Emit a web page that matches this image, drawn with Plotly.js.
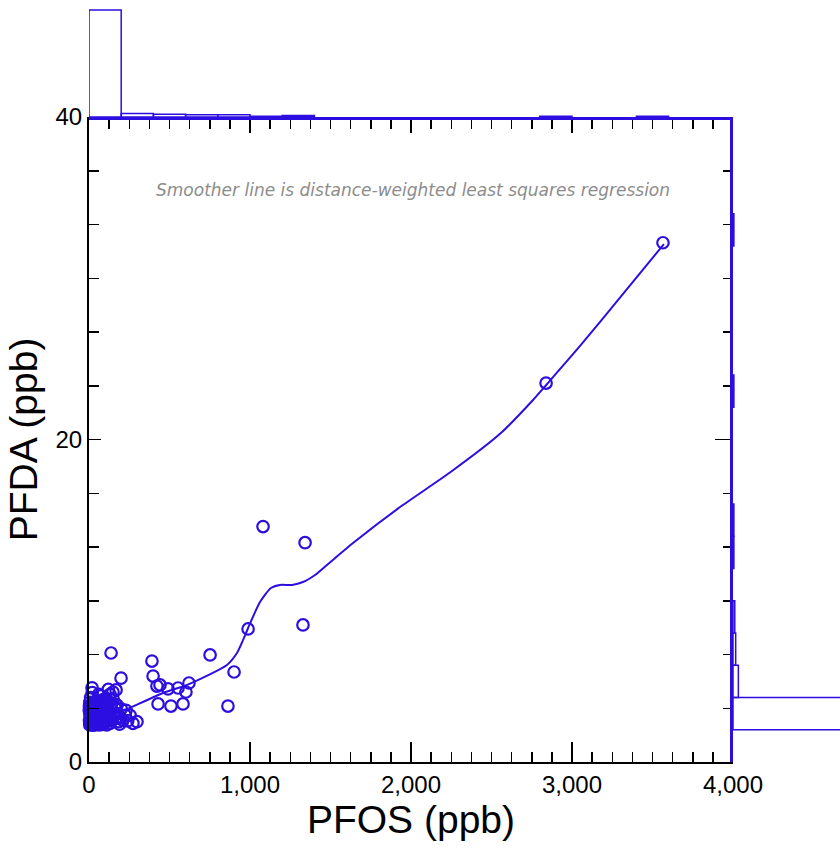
<!DOCTYPE html>
<html><head><meta charset="utf-8">
<script src="https://cdn.plot.ly/plotly-3.0.1.min.js"></script>
<style>html,body{margin:0;padding:0;background:#fff}</style>
</head><body><div id="chart" style="width:840px;height:855px"></div>
<script>
// scatter data: PFOS (x) vs PFDA (y), ppb
const pfos = [3565,2839,1081,1342,988,1329,752,391,137,901,398,199,441,422,621,553,491,602,429,509,584,863,19,149,168,174,255,298,273,
  5,15,25,35,45,55,65,75,10,20,30,40,50,60,70,80,90,100,110,120,8,18,28,38,48,58,68,78,88,98,12,22,32,42,52,62,72,85,95,105,115,125,135,145,155,165,175,185,195,210,225,240,140,150,160,170,5,10,20,60,75,120,130,3,2,200,230,190,110,130,45,35,25,15,65,85,
  4,12,22,30,42,52,62,72,82,92,102,112,6,16,26,36,46,56,66,76,86,96,106,3,14,24,34,44,54,64,74,84,94,104,116,126];
const pfda = [32.2,23.5,14.6,13.6,8.25,8.5,6.64,6.26,6.76,5.58,5.33,5.2,4.78,4.71,4.9,4.59,4.53,4.34,3.6,3.47,3.6,3.47,4.6,4.34,4.47,3.53,2.9,2.5,2.4,
  2.3,2.35,2.28,2.4,2.32,2.45,2.35,2.5,2.5,2.6,2.55,2.7,2.58,2.8,2.62,2.75,2.5,2.65,2.9,2.55,2.9,3.0,2.85,3.1,2.95,3.2,3.05,3.3,3.15,3.4,3.3,3.5,3.4,3.6,3.5,3.75,3.6,3.85,3.7,3.95,3.3,3.1,2.8,2.6,2.9,2.7,3.0,2.5,2.75,2.6,2.9,2.55,3.6,3.9,3.4,3.55,3.7,4.0,4.3,4.2,4.1,4.5,4.2,2.6,3.2,3.3,3.2,2.35,2.3,2.4,2.45,2.38,2.3,2.42,2.3,2.33,
  2.45,2.52,2.4,2.65,2.7,2.48,2.72,2.4,2.62,2.78,2.45,2.68,2.95,3.05,3.15,2.9,3.25,3.0,2.85,3.1,2.95,3.2,3.0,3.45,3.55,3.65,3.3,3.8,3.45,3.35,3.75,3.5,3.6,3.25,3.5,3.7];
// smoother (distance-weighted least squares) line
const smoothX = [19,130,211,460,609,857,919,957,988,1062,1130,1186,1261,1329,1404,1478,1640,1932,2242,2553,2758,2845,3050,3298,3571];
const smoothY = [2.6,2.85,3.16,4.28,4.78,6.02,6.76,7.57,8.31,9.92,10.79,10.98,10.98,11.16,11.6,12.22,13.58,15.81,17.95,20.35,22.45,23.44,25.8,28.8,32.12];
// marginal histograms
const histXCenters = [100,300,500,700,900,1100,1300,2900,3500];
const histXCounts = [150,5,4,3,3,1,2,1,1];
const histYCenters = [3,5,7,9,13,15,23,33];
const histYCounts = [151,6,3,2,1,1,1,1];
const xTickVals = [0,1000,2000,3000,4000];
const yTickVals = [0,20,40];

const BLUE = '#2c0fe0';
const traces = [
  {type:'scatter', mode:'markers', x:pfos, y:pfda, xaxis:'x', yaxis:'y',
   marker:{symbol:'circle-open', size:11.5, color:BLUE, line:{width:2.2, color:BLUE}}, cliponaxis:false, hoverinfo:'skip'},
  {type:'scatter', mode:'lines', x:smoothX, y:smoothY, xaxis:'x', yaxis:'y',
   line:{color:BLUE, width:2, shape:'spline', smoothing:0.6}, hoverinfo:'skip'},
  {type:'bar', x:histXCenters, y:histXCounts, width:200, xaxis:'x2', yaxis:'y2',
   marker:{color:'rgba(255,255,255,0)', line:{color:BLUE, width:1.5}}},
  {type:'bar', orientation:'h', y:histYCenters, x:histYCounts, width:2, xaxis:'x3', yaxis:'y3',
   marker:{color:'rgba(255,255,255,0)', line:{color:BLUE, width:1.5}}},
  // empty traces that only carry the mirrored tick axes (top and right)
  {type:'scatter', mode:'markers', x:[], y:[], xaxis:'x4', yaxis:'y', hoverinfo:'skip'},
  {type:'scatter', mode:'markers', x:[], y:[], xaxis:'x', yaxis:'y4', hoverinfo:'skip'}
];
const W=840, H=855;
const xd = [89/W, 733/W], yd = [93/H, 738/H];
const FONT = 'Liberation Sans, Arial, sans-serif';
const tickFont = {family:FONT, size:24, color:'#000'};
const xMinor = {dtick:125, tick0:0, ticks:'inside', ticklen:10, tickwidth:1.5, tickcolor:'#000'};
const yMinor = {dtick:40/12, tick0:0, ticks:'inside', ticklen:10, tickwidth:1.5, tickcolor:'#000'};
const layout = {
  width:W, height:H, margin:{l:0,r:0,t:0,b:0}, showlegend:false,
  paper_bgcolor:'#fff', plot_bgcolor:'rgba(0,0,0,0)',
  xaxis:{domain:xd, anchor:'y', range:[0,4000], tickvals:xTickVals, ticktext:xTickVals.map(v=>v.toLocaleString('en-US')),
    showline:true, linecolor:'#000', linewidth:2, ticks:'inside', ticklen:20, tickwidth:1.5, tickcolor:'#000',
    minor:xMinor, showgrid:false, zeroline:false, tickfont:tickFont, automargin:false,
    title:{text:'PFOS (ppb)', font:{family:FONT, size:39, color:'#000'}, standoff:2}},
  yaxis:{domain:yd, anchor:'x', range:[0,40], tickvals:yTickVals, ticktext:yTickVals.map(String),
    showline:true, linecolor:'#000', linewidth:2, ticks:'inside', ticklen:12, tickwidth:1.5, tickcolor:'#000',
    minor:yMinor, showgrid:false, zeroline:false, tickfont:tickFont, automargin:false,
    title:{text:'PFDA (ppb)', font:{family:FONT, size:39, color:'#000'}, standoff:6}},
  xaxis4:{overlaying:'x', side:'top', anchor:'y', range:[0,4000], tickvals:xTickVals, showticklabels:false,
    showline:false, ticks:'inside', ticklen:16, tickwidth:1.5, tickcolor:'#000', minor:{...xMinor, ticklen:12},
    showgrid:false, zeroline:false},
  yaxis4:{overlaying:'y', side:'right', anchor:'x', range:[0,40], tickvals:yTickVals, showticklabels:false,
    showline:false, ticks:'inside', ticklen:18, tickwidth:1.5, tickcolor:'#000', minor:yMinor,
    showgrid:false, zeroline:false},
  xaxis2:{domain:xd, anchor:'y2', range:[0,4000], showline:true, linecolor:BLUE, linewidth:2.5, ticks:'', showticklabels:false, showgrid:false, zeroline:false},
  yaxis2:{domain:[738/H,1], anchor:'x2', range:[0,164], visible:false},
  xaxis3:{domain:[733/W,1], anchor:'y3', range:[0,120], visible:false},
  yaxis3:{domain:yd, anchor:'x3', range:[0,40], showline:true, linecolor:BLUE, linewidth:3, ticks:'', showticklabels:false, showgrid:false, zeroline:false},
  annotations:[{xref:'x', yref:'y', x:2010, y:35.5, showarrow:false,
    text:'<i>Smoother line is distance-weighted least squares regression</i>',
    font:{family:'DejaVu Sans, sans-serif', size:17, color:'#8c8c8c'}}]
};
Plotly.newPlot('chart', traces, layout, {staticPlot:true, displayModeBar:false});
</script></body></html>
